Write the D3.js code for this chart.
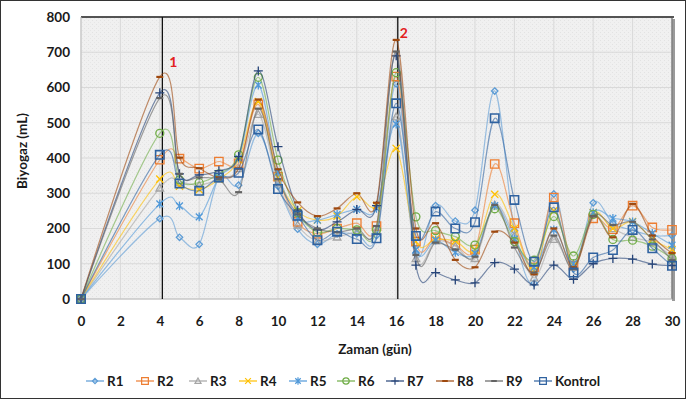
<!DOCTYPE html>
<html>
<head>
<meta charset="utf-8">
<script src="https://cdn.jsdelivr.net/npm/d3@7/dist/d3.min.js"></script>
<style>
  body { margin: 0; background: #fff; }
  svg text { font-family: Lato, "Open Sans", sans-serif; font-weight: bold; fill: #1a1a1a; }
</style>
</head>
<body>
<svg id="chart" width="686" height="403"></svg>
<script>
// days measured (day 0, then daily from day 4 to 30)
var days = [0, 4, 5, 6, 7, 8, 9, 10, 11, 12, 13, 14, 15, 16, 17, 18, 19, 20, 21, 22, 23, 24, 25, 26, 27, 28, 29, 30];

var r1 = [0, 228, 175, 155, 345, 323, 470, 320, 198, 155, 185, 185, 180, 610, 130, 265, 221, 252, 590, 194, 45, 298, 85, 273, 215, 195, 180, 180];
var r2 = [0, 395, 398, 370, 390, 385, 552, 347, 219, 185, 200, 215, 207, 631, 163, 175, 153, 140, 383, 215, 90, 288, 95, 229, 198, 265, 203, 196];
var r3 = [0, 315, 330, 323, 340, 370, 524, 330, 210, 165, 176, 190, 195, 517, 115, 165, 150, 115, 267, 180, 60, 169, 90, 240, 200, 175, 160, 120];
var r4 = [0, 340, 320, 310, 340, 395, 560, 345, 250, 224, 235, 290, 265, 427, 163, 170, 165, 140, 297, 200, 80, 250, 95, 245, 200, 220, 170, 140];
var r5 = [0, 270, 264, 233, 345, 400, 607, 360, 230, 224, 240, 254, 257, 496, 140, 167, 132, 130, 265, 170, 90, 196, 100, 245, 229, 219, 186, 153];
var r6 = [0, 470, 338, 330, 355, 409, 629, 394, 245, 190, 200, 196, 196, 642, 233, 194, 177, 153, 256, 163, 110, 234, 122, 240, 169, 167, 150, 115];
var r7 = [0, 585, 355, 352, 364, 404, 647, 432, 252, 196, 219, 254, 265, 690, 96, 75, 54, 46, 103, 85, 40, 96, 56, 100, 115, 113, 99, 95];
var r8 = [0, 630, 401, 371, 345, 370, 566, 368, 274, 235, 257, 300, 273, 735, 200, 215, 111, 90, 191, 160, 70, 200, 90, 235, 175, 270, 180, 130];
var r9 = [0, 570, 355, 345, 340, 303, 540, 340, 240, 200, 190, 200, 207, 702, 125, 160, 140, 120, 267, 146, 75, 180, 85, 235, 210, 219, 169, 110];
var kontrol = [0, 409, 328, 307, 345, 358, 481, 312, 236, 167, 191, 170, 172, 555, 179, 248, 200, 218, 513, 281, 106, 260, 75, 118, 139, 196, 144, 94];

var seriesNames = ["R1", "R2", "R3", "R4", "R5", "R6", "R7", "R8", "R9", "Kontrol"];
var seriesValues = [r1, r2, r3, r4, r5, r6, r7, r8, r9, kontrol];
var seriesColors = ["#5b9bd5", "#ed7d31", "#a5a5a5", "#ffc000", "#4f98d8", "#70ad47", "#264478", "#9e480e", "#636363", "#2f62a0"];
var seriesMarkers = ["diamond", "square", "triangle", "cross", "star", "circle", "plus", "dash", "dash", "square"];

var xTicks = d3.range(0, 31, 2);
var yTicks = d3.range(0, 801, 100);
// the vertical lines sit a little right of the day markers in the original
var events = [{day: 4.13, label: "1"}, {day: 16.08, label: "2"}];

var svg = d3.select("#chart");
var margin = {left: 81, right: 14, top: 17, bottom: 104};
var W = 686, H = 403;

var x = d3.scaleLinear().domain([0, 30]).range([margin.left, W - margin.right]);
var y = d3.scaleLinear().domain([0, 800]).range([H - margin.bottom, margin.top]);

// outer frame
svg.append("rect")
    .attr("x", 0.5).attr("y", 0.5)
    .attr("width", W - 1).attr("height", H - 5)
    .attr("fill", "#fff").attr("stroke", "#333").attr("stroke-width", 1);

// plot area background with light texture
var defs = svg.append("defs");
var pat = defs.append("pattern")
    .attr("id", "tex").attr("width", 4).attr("height", 4)
    .attr("patternUnits", "userSpaceOnUse");
pat.append("rect").attr("width", 4).attr("height", 4).attr("fill", "#f0f0f0");
pat.append("rect").attr("x", 0).attr("y", 0).attr("width", 1).attr("height", 1).attr("fill", "#e2e2e2");
pat.append("rect").attr("x", 2).attr("y", 2).attr("width", 1).attr("height", 1).attr("fill", "#e6e6e6");

// shadow on the right
svg.append("rect")
    .attr("x", x(30)).attr("y", y(800) + 2)
    .attr("width", 3).attr("height", y(0) - y(800))
    .attr("fill", "#9a9a9a");

svg.append("rect")
    .attr("x", x(0)).attr("y", y(800))
    .attr("width", x(30) - x(0)).attr("height", y(0) - y(800))
    .attr("fill", "url(#tex)");

// grid
svg.append("g").selectAll("line.h").data(yTicks).enter().append("line")
    .attr("x1", x(0)).attr("x2", x(30))
    .attr("y1", function(d) { return y(d); }).attr("y2", function(d) { return y(d); })
    .attr("stroke", "#d9d9d9").attr("stroke-width", 1);
svg.append("g").selectAll("line.v").data(xTicks).enter().append("line")
    .attr("y1", y(0)).attr("y2", y(800))
    .attr("x1", function(d) { return x(d); }).attr("x2", function(d) { return x(d); })
    .attr("stroke", "#d9d9d9").attr("stroke-width", 1);

// borders
svg.append("line").attr("x1", x(0)).attr("x2", x(30) + 2).attr("y1", y(800)).attr("y2", y(800))
    .attr("stroke", "#222").attr("stroke-width", 1.5);
svg.append("line").attr("x1", x(30)).attr("x2", x(30)).attr("y1", y(800)).attr("y2", y(0))
    .attr("stroke", "#555").attr("stroke-width", 1);
svg.append("line").attr("x1", x(0)).attr("x2", x(0)).attr("y1", y(800)).attr("y2", y(0))
    .attr("stroke", "#bfbfbf").attr("stroke-width", 1);
svg.append("line").attr("x1", x(0)).attr("x2", x(30)).attr("y1", y(0)).attr("y2", y(0))
    .attr("stroke", "#bfbfbf").attr("stroke-width", 1);

// axes
var xAxis = d3.axisBottom(x).tickValues(xTicks).tickSize(0).tickPadding(17);
var yAxis = d3.axisLeft(y).tickValues(yTicks).tickSize(0).tickPadding(11);
var gx = svg.append("g").attr("transform", "translate(0," + y(0) + ")").call(xAxis);
var gy = svg.append("g").attr("transform", "translate(" + x(0) + ",0)").call(yAxis);
[gx, gy].forEach(function(g) {
  g.select(".domain").remove();
  g.selectAll("text").style("font-size", "13.5px").style("font-family", "Lato, sans-serif").style("font-weight", "bold").attr("fill", "#1a1a1a");
});

// titles
svg.append("text").attr("x", 375).attr("y", 354).attr("text-anchor", "middle")
    .style("font-size", "13.5px").text("Zaman (gün)");
svg.append("text").attr("transform", "translate(27," + 151 + ") rotate(-90)")
    .attr("text-anchor", "middle").style("font-size", "13.5px").text("Biyogaz (mL)");

// event lines
svg.append("g").selectAll("line").data(events).enter().append("line")
    .attr("x1", function(d) { return x(d.day); }).attr("x2", function(d) { return x(d.day); })
    .attr("y1", y(800)).attr("y2", y(0))
    .attr("stroke", "#111").attr("stroke-width", 1.3);

// marker shapes
function markerPath(type, r) {
  switch (type) {
    case "diamond": return "M0," + (-r) + "L" + r + ",0L0," + r + "L" + (-r) + ",0Z";
    case "square": return "M" + (-r) + "," + (-r) + "H" + r + "V" + r + "H" + (-r) + "Z";
    case "triangle": return "M0," + (-r) + "L" + r + "," + (r * 0.8) + "L" + (-r) + "," + (r * 0.8) + "Z";
    case "cross": return "M" + (-r) + "," + (-r) + "L" + r + "," + r + "M" + (-r) + "," + r + "L" + r + "," + (-r);
    case "star": return "M" + (-r) + "," + (-r) + "L" + r + "," + r + "M" + (-r) + "," + r + "L" + r + "," + (-r) + "M0," + (-r - 1) + "L0," + (r + 1);
    case "circle": return "M" + r + ",0A" + r + "," + r + " 0 1,1 " + (-r) + ",0A" + r + "," + r + " 0 1,1 " + r + ",0Z";
    case "plus": return "M" + (-r - 1) + ",0H" + (r + 1) + "M0," + (-r - 1) + "V" + (r + 1);
    case "dash": return "M" + (-r) + ",0H" + r;
  }
}
var markerSize = {diamond: 3.2, square: 4.2, triangle: 3.8, cross: 3.6, star: 3.4, circle: 4, plus: 3.5, dash: 3.5};
var closed = {diamond: true, square: true, triangle: true, circle: true};

var line = d3.line()
    .x(function(d, i) { return x(days[i]); })
    .y(function(d) { return y(d); })
    .curve(d3.curveCardinal.tension(0));

var gSeries = svg.append("g").selectAll("g").data(seriesValues).enter().append("g");

gSeries.append("path")
    .attr("d", function(d) { return line(d); })
    .attr("fill", "none")
    .attr("stroke", function(d, i) { return seriesColors[i]; })
    .attr("stroke-width", 1.2)
    .attr("stroke-opacity", 0.6);

gSeries.each(function(vals, si) {
  var m = seriesMarkers[si];
  d3.select(this).selectAll("path.m").data(vals).enter().append("path")
      .attr("class", "m")
      .attr("transform", function(d, i) { return "translate(" + x(days[i]) + "," + y(d) + ")"; })
      .attr("d", markerPath(m, markerSize[m]))
      .attr("fill", closed[m] ? "#fbfbfb" : "none")
      .attr("stroke", seriesColors[si])
      .attr("stroke-width", m === "dash" ? 2.2 : (m === "square" && si === 9 ? 1.6 : 1.3));
});

// event labels
svg.append("g").selectAll("text").data(events).enter().append("text")
    .attr("x", function(d) { return x(d.day) + (d.day < 10 ? 11 : 6); })
    .attr("y", function(d) { return d.day < 10 ? 67 : 38; })
    .attr("text-anchor", "middle")
    .style("font-size", "14px").style("fill", "#e32020")
    .text(function(d) { return d.label; });

// legend
var legendX = [95, 145, 198, 248, 298, 346, 395, 445, 494, 543];
var legend = svg.append("g").selectAll("g").data(seriesNames).enter().append("g")
    .attr("transform", function(d, i) { return "translate(" + legendX[i] + ",381)"; });
legend.append("line").attr("x1", -9).attr("x2", 9).attr("y1", 0).attr("y2", 0)
    .attr("stroke", function(d, i) { return seriesColors[i]; }).attr("stroke-width", 1.2);
legend.append("path")
    .attr("d", function(d, i) { var m = seriesMarkers[i]; return markerPath(m, markerSize[m] * 0.8); })
    .attr("fill", function(d, i) { return closed[seriesMarkers[i]] ? "#fff" : "none"; })
    .attr("stroke", function(d, i) { return seriesColors[i]; })
    .attr("stroke-width", function(d, i) { return seriesMarkers[i] === "dash" ? 2 : 1.2; });
legend.append("text").attr("x", 12).attr("y", 5)
    .style("font-size", "13.5px").text(function(d) { return d; });
</script>
</body>
</html>
